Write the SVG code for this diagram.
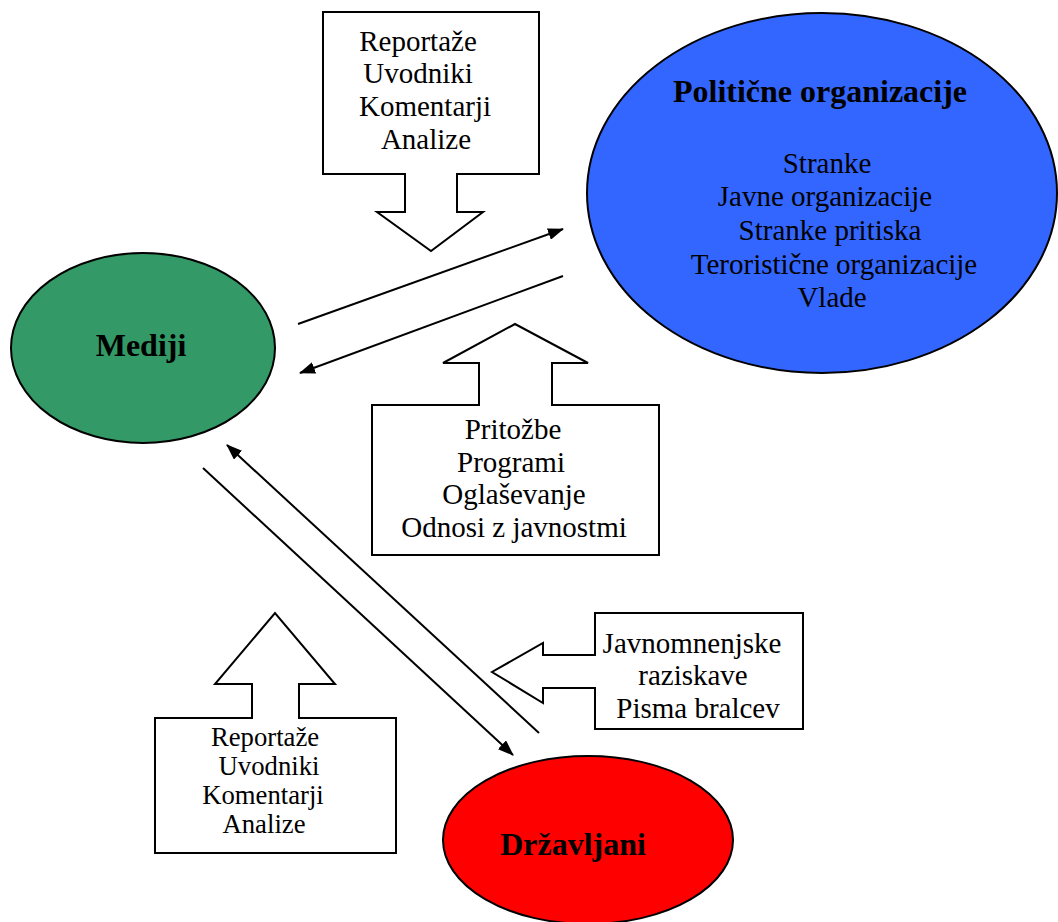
<svg xmlns="http://www.w3.org/2000/svg" width="1058" height="922" viewBox="0 0 1058 922">
<style>
.shape{stroke:#000;stroke-width:2;stroke-linejoin:miter}
.callout{fill:#fff;stroke:#000;stroke-width:2}
.t{font-family:"Liberation Serif","Times New Roman",serif;font-size:29px;fill:#000;text-anchor:middle}
.ts{font-family:"Liberation Serif","Times New Roman",serif;font-size:26.7px;fill:#000;text-anchor:middle}
.b{font-family:"Liberation Serif","Times New Roman",serif;font-size:32px;font-weight:bold;fill:#000;text-anchor:middle}
.conn{stroke:#000;stroke-width:2;fill:none;marker-end:url(#ah)}
</style>
<defs>
<marker id="ah" viewBox="0 0 16 12" refX="15" refY="6" markerWidth="16" markerHeight="12" markerUnits="userSpaceOnUse" orient="auto">
<path d="M0,0 L16,6 L0,12 Z" fill="#000"/>
</marker>
</defs>
<rect width="1058" height="922" fill="#fff"/>

<g id="politicne">
<ellipse class="shape" cx="822" cy="193" rx="235" ry="180" fill="#3366FF"/>
<text class="b" x="820" y="102">Politične organizacije</text>
<text class="t" x="827" y="173">Stranke</text>
<text class="t" x="825" y="206">Javne organizacije</text>
<text class="t" x="830" y="240">Stranke pritiska</text>
<text class="t" x="834" y="274">Teroristične organizacije</text>
<text class="t" x="832" y="307">Vlade</text>
</g>

<g id="mediji">
<ellipse class="shape" cx="143" cy="348" rx="132" ry="95" fill="#339966"/>
<text class="b" x="141" y="356">Mediji</text>
</g>

<g id="drzavljani">
<ellipse class="shape" cx="588" cy="840" rx="145" ry="84" fill="#FF0000"/>
<text class="b" x="573" y="855">Državljani</text>
</g>

<g id="callout-top">
<path class="callout" d="M323,12 H539 V174 H457 V212 H483 L431,251 L377,212 H405 V174 H323 Z"/>
<text class="t" x="418" y="51">Reportaže</text>
<text class="t" x="418" y="83">Uvodniki</text>
<text class="t" x="425" y="116">Komentarji</text>
<text class="t" x="426" y="149">Analize</text>
</g>

<g id="callout-middle">
<path class="callout" d="M372,405 H479 V363 H443 L515,324 L588,363 H552 V405 H659 V555 H372 Z"/>
<text class="t" x="513" y="439">Pritožbe</text>
<text class="t" x="511" y="472">Programi</text>
<text class="t" x="514" y="504">Oglaševanje</text>
<text class="t" x="514" y="537">Odnosi z javnostmi</text>
</g>

<g id="callout-right">
<path class="callout" d="M595,613 H803 V729 H595 V688 H543 V703 L492,672 L543,643 V655 H595 Z"/>
<text class="t" x="692" y="653">Javnomnenjske</text>
<text class="t" x="693" y="685">raziskave</text>
<text class="t" x="698" y="718">Pisma bralcev</text>
</g>

<g id="callout-bottom">
<path class="callout" d="M155,718 H252 V684 H215 L275,613 L335,684 H299 V718 H396 V853 H155 Z"/>
<text class="ts" x="265" y="746">Reportaže</text>
<text class="ts" x="269" y="775">Uvodniki</text>
<text class="ts" x="263" y="804">Komentarji</text>
<text class="ts" x="264" y="833">Analize</text>
</g>

<g id="connectors">
<line class="conn" x1="298" y1="324" x2="563" y2="229"/>
<line class="conn" x1="563" y1="276" x2="300" y2="373"/>
<line class="conn" x1="539" y1="733" x2="227" y2="445"/>
<line class="conn" x1="203" y1="468" x2="513" y2="755"/>
</g>
</svg>
